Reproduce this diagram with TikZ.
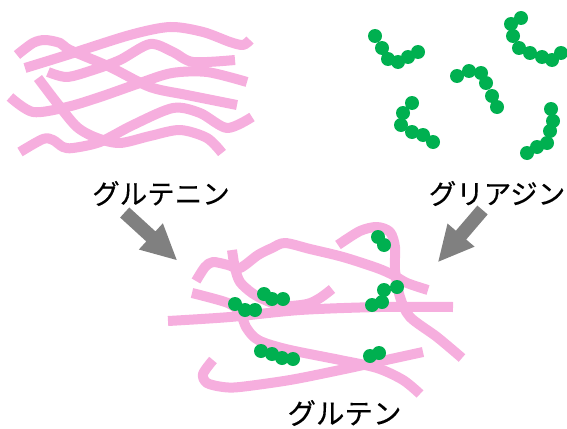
\documentclass[tikz,border=0pt]{standalone}
\usepackage{fontspec}
\newfontfamily\jpfont[FakeBold=0.4]{Noto Sans CJK JP}
\usetikzlibrary{calc}
\definecolor{strandpink}{RGB}{246,174,222}
\definecolor{beadgreen}{RGB}{0,176,80}
\definecolor{arrowfill}{RGB}{128,128,128}
\tikzset{
  strand/.style={draw=strandpink, line width=10pt, line cap=butt, line join=round},
  bead/.style={fill=beadgreen},
  jplabel/.style={font=\jpfont\fontsize{27.5}{32}\selectfont, inner sep=0pt, text=black},
}
% a chain of green beads through the given points
\newcommand{\beadchain}[1]{\foreach \p in {#1} {\fill[bead] \p circle (7pt);}}
% a wide block arrow from #1 (tail) to #2 (tip)
\newcommand{\blockarrow}[2]{%
  \coordinate (hb) at ($(#2)!35pt!(#1)$);
  \fill[arrowfill] ($(#1)!6.8pt!90:(#2)$) -- ($(hb)!6.8pt!90:(#2)$)
    -- ($(hb)!17.8pt!90:(#2)$) -- (#2) -- ($(hb)!17.8pt!-90:(#2)$)
    -- ($(hb)!6.8pt!-90:(#2)$) -- ($(#1)!6.8pt!-90:(#2)$) -- cycle;}
\begin{document}
\begin{tikzpicture}[x=1pt, y=-1pt]
\useasboundingbox (0,0) rectangle (567,428);

% ---- glutenin: loose wavy strands ----
\draw[strand] plot[smooth] coordinates {(25,68) (67,55) (130,35) (170,27) (203,32) (230,42) (243,45) (250,40)};
\draw[strand] plot[smooth] coordinates {(17,55) (33,43) (45,40) (60,43) (70,50) (110,67) (150,87) (187,95) (237,105)};
\draw[strand] plot[smooth] coordinates {(48,72) (67,77) (93,70) (120,60) (150,44) (173,52) (193,62) (235,60)};
\draw[strand] plot[smooth] coordinates {(10,97) (33,112) (67,107) (100,97) (140,83) (172,73) (207,72) (247,82)};
\draw[strand] plot[smooth] coordinates {(38,78) (57,103) (77,127) (97,138) (120,143) (150,136) (180,130) (207,138) (222,153)};
\draw[strand] plot[smooth] coordinates {(20,152) (43,139) (53,140) (63,147) (73,148) (100,142) (133,125) (173,108) (200,113) (227,128) (252,117)};

% ---- gliadin: short bead chains ----
\beadchain{(375,36),(382,48),(388,59),(398,62),(408,57),(418,52)}
\beadchain{(457,76),(469,71),(481,73),(486,83),(492,96),(497,107)}
\beadchain{(412,103),(403,113),(401,125),(412,132),(423,135),(433,142)}
\beadchain{(521,18),(511,24),(513,36),(519,48),(530,53),(542,57),(552,60),(561,53)}
\beadchain{(551,109),(553,121),(550,131),(547,143),(537,147),(527,153)}

% ---- labels ----
\node[jplabel] (glutenin) at (161,193.5) {グルテニン};
\node[jplabel] (gliadin) at (497,193.5) {グリアジン};
\node[jplabel, font=\jpfont\fontsize{28.5}{32}\selectfont] (gluten) at (344.5,413) {グルテン};

% ---- arrows into the network ----
\coordinate (ltail) at (124.7,212.5);
\coordinate (ltip) at (176.7,260);
\coordinate (rtail) at (482.5,210);
\coordinate (rtip) at (438.3,261.7);
\blockarrow{ltail}{ltip}
\blockarrow{rtail}{rtip}

% ---- gluten: strands tangled with bead chains ----
\draw[strand] plot[smooth] coordinates {(168,321) (230,317) (300,310) (380,307) (453,307)};
\draw[strand] plot[smooth] coordinates {(192,293) (228,303) (240,313) (246,327) (254,337) (265,343) (290,350) (340,360) (377,368) (403,380) (420,394)};
\draw[strand] plot[smooth] coordinates {(232,250) (235,268) (240,282) (252,293) (265,300) (283,306) (307,304) (320,298) (332,289)};
\draw[strand] plot[smooth] coordinates {(196,281) (205,267) (213,262) (228,265) (240,268) (258,255) (272,248) (285,243) (310,249) (343,257) (377,268) (393,275) (407,283) (428,290)};
\draw[strand] plot[smooth] coordinates {(213,360) (203,374) (207,383) (223,387) (240,387) (290,380) (340,370) (377,362) (423,352)};
\draw[strand] plot[smooth] coordinates {(338,245) (360,231) (377,227) (390,232) (395,247) (395,270) (400,297) (410,317) (437,337) (462,358)};

\beadchain{(261,351),(272,354),(282,358),(293,359)}
\beadchain{(370,356),(379,353)}
\beadchain{(235,304),(245,310),(255,310)}
\beadchain{(264,294),(272,299),(283,299)}
\beadchain{(378,237),(384,245)}
\beadchain{(372,305),(382,302),(384,290),(397,287)}
\end{tikzpicture}
\end{document}
